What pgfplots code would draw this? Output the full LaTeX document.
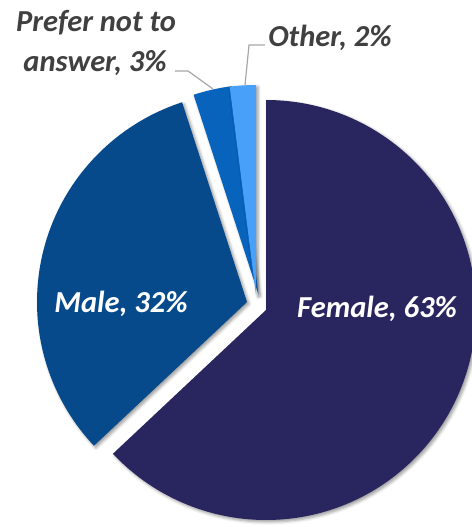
\documentclass[border=0pt]{standalone}
\usepackage{pgfplots}
\usepackage{pgfplotstable}
\pgfplotsset{compat=1.18}
\usepackage{fontspec}
\setmainfont{Carlito}
\usetikzlibrary{shadows.blur}

\definecolor{cFemale}{HTML}{29255E}
\definecolor{cMale}{HTML}{064A8C}
\definecolor{cPrefer}{HTML}{0863BD}
\definecolor{cOther}{HTML}{49A0F8}
\definecolor{cLab}{HTML}{404040}
\definecolor{cLead}{HTML}{A6A6A6}

% share (%), tip of each slice (x,y in pixels, y upward)
\pgfplotstableread{
label  value  cx     cy
Female 63     266    217
Male   32     247    225
Prefer 3      258.5  232.5
Other  2      256    232
}\piedata

\pgfplotstablegetelem{0}{value}\of\piedata \pgfmathsetmacro\vF{\pgfplotsretval}
\pgfplotstablegetelem{1}{value}\of\piedata \pgfmathsetmacro\vM{\pgfplotsretval}
\pgfplotstablegetelem{2}{value}\of\piedata \pgfmathsetmacro\vP{\pgfplotsretval}
\pgfplotstablegetelem{3}{value}\of\piedata \pgfmathsetmacro\vO{\pgfplotsretval}
\pgfplotstablegetelem{0}{cx}\of\piedata \edef\xF{\pgfplotsretval}
\pgfplotstablegetelem{0}{cy}\of\piedata \edef\yF{\pgfplotsretval}
\pgfplotstablegetelem{1}{cx}\of\piedata \edef\xM{\pgfplotsretval}
\pgfplotstablegetelem{1}{cy}\of\piedata \edef\yM{\pgfplotsretval}
\pgfplotstablegetelem{2}{cx}\of\piedata \edef\xP{\pgfplotsretval}
\pgfplotstablegetelem{2}{cy}\of\piedata \edef\yP{\pgfplotsretval}
\pgfplotstablegetelem{3}{cx}\of\piedata \edef\xO{\pgfplotsretval}
\pgfplotstablegetelem{3}{cy}\of\piedata \edef\yO{\pgfplotsretval}

\pgfmathsetmacro\aA{90}
\pgfmathsetmacro\aB{\aA-3.6*\vF}
\pgfmathsetmacro\aC{\aB-3.6*\vM}
\pgfmathsetmacro\aD{\aC-3.6*\vP}
\pgfmathsetmacro\aE{\aD-3.6*\vO}

\def\R{210bp}

\begin{document}
\begin{tikzpicture}
\useasboundingbox (0,0) rectangle (472bp,527bp);
\begin{axis}[
  at={(0,0)}, anchor=south west,
  width=472bp, height=527bp, scale only axis,
  xmin=0, xmax=472, ymin=0, ymax=527,
  hide axis, clip=true,
]
\tikzset{sl/.style={blur shadow={shadow xshift=2bp, shadow yshift=-2bp, shadow blur radius=3bp, shadow opacity=40}}}
\fill[cFemale, sl] (axis cs:\xF,\yF) -- +(\aA:\R) arc[start angle=\aA, end angle=\aB, radius=\R] -- cycle;
\fill[cMale, sl] (axis cs:\xM,\yM) -- +(\aB:\R) arc[start angle=\aB, end angle=\aC, radius=\R] -- cycle;
\fill[cPrefer, sl] (axis cs:\xP,\yP) -- +(\aC:\R) arc[start angle=\aC, end angle=\aD, radius=\R] -- cycle;
\fill[cOther, sl] (axis cs:\xO,\yO) -- +(\aD:\R) arc[start angle=\aD, end angle=\aE, radius=\R] -- cycle;

% leader lines
\draw[cLead, line width=1.2bp] (axis cs:175,456) -- (axis cs:188,456) -- (axis cs:213,438);
\draw[cLead, line width=1.2bp] (axis cs:265,482) -- (axis cs:249,482) -- (axis cs:245,442);

% labels
\begin{scope}[every node/.style={font=\fontsize{30.5bp}{36bp}\selectfont\bfseries\itshape, anchor=base, inner sep=0pt}]
\node[white] at (axis cs:377,209) {Female, 63\%};
\node[white] at (axis cs:121,214) {Male, 32\%};
\node[cLab] at (axis cs:96,495) {Prefer not to};
\node[cLab] at (axis cs:95,455) {answer, 3\%};
\node[cLab] at (axis cs:330,480) {Other, 2\%};
\end{scope}
\end{axis}
\end{tikzpicture}
\end{document}
